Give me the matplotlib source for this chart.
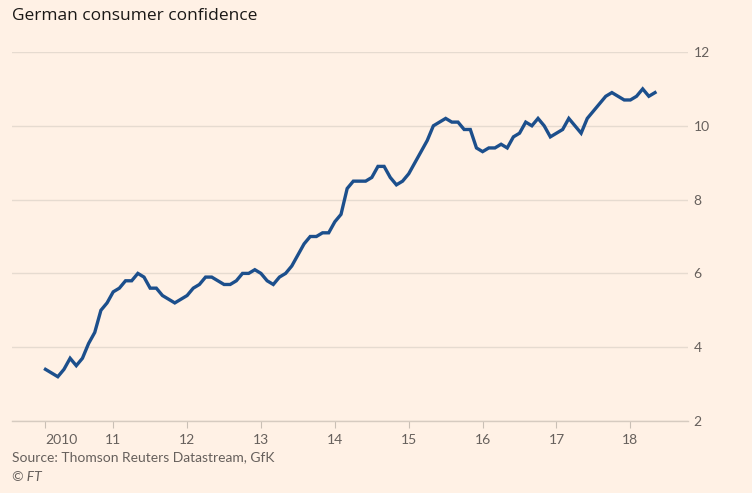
import matplotlib
matplotlib.use("Agg")
import matplotlib.pyplot as plt
import numpy as np

# GfK consumer climate, monthly, Feb 2010 - May 2018
start_year = 2010
start_month = 2
confidence = [
    3.4, 3.3, 3.2, 3.4, 3.7, 3.5, 3.7, 4.1, 4.4, 5.0, 5.2,   # 2010
    5.5, 5.6, 5.8, 5.8, 6.0, 5.9, 5.6, 5.6, 5.4, 5.3, 5.2, 5.3,   # 2011
    5.4, 5.6, 5.7, 5.9, 5.9, 5.8, 5.7, 5.7, 5.8, 6.0, 6.0, 6.1,   # 2012
    6.0, 5.8, 5.7, 5.9, 6.0, 6.2, 6.5, 6.8, 7.0, 7.0, 7.1, 7.1,   # 2013
    7.4, 7.6, 8.3, 8.5, 8.5, 8.5, 8.6, 8.9, 8.9, 8.6, 8.4, 8.5,   # 2014
    8.7, 9.0, 9.3, 9.6, 10.0, 10.1, 10.2, 10.1, 10.1, 9.9, 9.9, 9.4,   # 2015
    9.3, 9.4, 9.4, 9.5, 9.4, 9.7, 9.8, 10.1, 10.0, 10.2, 10.0, 9.7,   # 2016
    9.8, 9.9, 10.2, 10.0, 9.8, 10.2, 10.4, 10.6, 10.8, 10.9, 10.8, 10.7,   # 2017
    10.7, 10.8, 11.0, 10.8, 10.9,   # 2018
]
year_labels = ["2010", "11", "12", "13", "14", "15", "16", "17", "18"]
y_ticks = [2, 4, 6, 8, 10, 12]

title = "German consumer confidence"
source = "Source: Thomson Reuters Datastream, GfK"

bg = "#fff1e5"
line_col = "#1c4f8c"
grid_col = "#e6dbd0"
text_grey = "#66605c"

plt.rcParams['font.family'] = ['Lato', 'DejaVu Sans']

# fractional year for each month
x = start_year + (start_month - 1 + np.arange(len(confidence))) / 12.0

fig = plt.figure(figsize=(7.52, 4.93), dpi=100, facecolor=bg)
W, H = 752, 493
ax = fig.add_axes([12 / W, 1 - 421 / H, (688 - 12) / W, (421 - 52) / H])
ax.set_facecolor(bg)

ax.plot(x, confidence, color=line_col, lw=2.4, solid_joinstyle='miter', zorder=3)

ax.set_ylim(2, 12)
ax.set_xlim(2009.63, 2018.78)

# y axis on the right, gridlines
ax.yaxis.tick_right()
ax.set_yticks(y_ticks)
ax.set_yticklabels([str(v) for v in y_ticks])
ax.tick_params(axis='y', length=0, pad=4, labelsize=10, labelcolor=text_grey)
ax.grid(axis='y', color=grid_col, lw=1)
ax.set_axisbelow(True)

# x ticks: first one sits on first data point
xt = [x[0]] + list(range(2011, 2019))
ax.set_xticks(xt)
ax.set_xticklabels(year_labels)
ax.tick_params(axis='x', length=5, width=0.8, color='#c9bfb5', pad=4,
               labelsize=10, labelcolor=text_grey)
ax.get_xticklabels()[0].set_horizontalalignment('left')

for s in ['top', 'left', 'right']:
    ax.spines[s].set_visible(False)
ax.spines['bottom'].set_color('#d6cbc0')
ax.spines['bottom'].set_linewidth(1)

fig.text(12 / W, 1 - 16 / H, title, fontsize=12.5, color='#1a1816',
         family=['Open Sans', 'DejaVu Sans'], va='center', ha='left')
fig.text(12 / W, 1 - 457 / H, source, fontsize=10, color=text_grey,
         va='center', ha='left')
fig.text(12 / W, 1 - 477 / H, "\u00a9 FT", fontsize=10, color=text_grey,
         style='italic', va='center', ha='left')

fig.savefig("out.png", dpi=100, facecolor=bg)
